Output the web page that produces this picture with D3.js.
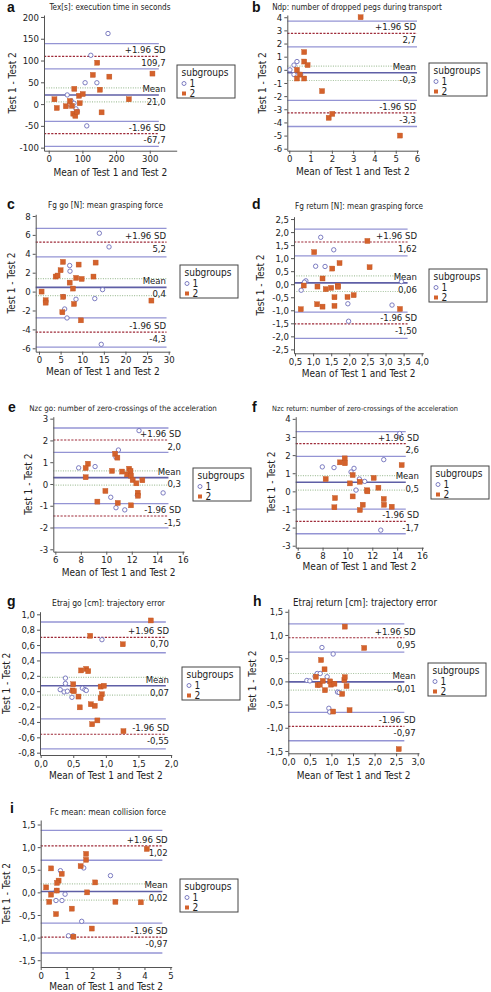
<!DOCTYPE html>
<html><head><meta charset="utf-8">
<script src="https://cdn.jsdelivr.net/npm/d3@7"></script>
<style>
body{margin:0;background:#fff}
svg{display:block}
text{font-family:"Liberation Sans Narrow","DejaVu Sans Condensed","Arial Narrow",Arial,sans-serif}
</style>
</head><body>
<svg id="chart" width="491" height="992"></svg>
<script>
// ---------------- DATA ----------------
const letters = ["a","b","c","d","e","f","g","h","i"];
const titles = [
  "Tex[s]: execution time in seconds",
  "Ndp: number of dropped pegs during transport",
  "Fg go [N]: mean grasping force",
  "Fg return [N]: mean grasping force",
  "Nzc go: number of zero-crossings of the acceleration",
  "Nzc return: number of zero-crossings of the acceleration",
  "Etraj go [cm]: trajectory error",
  "Etraj return [cm]: trajectory error",
  "Fc mean: mean collision force"
];
const xAxisLabel = "Mean of Test 1 and Test 2";
const yAxisLabel = "Test 1 - Test 2";
const legendTitle = "subgroups";
const groupNames = ["1","2"];

// limit lines: [upperCIhi, upper(+1.96SD), upperCIlo, meanCIhi, mean, meanCIlo, lowerCIhi, lower(-1.96SD), lowerCIlo]
const aLines = [139, 109.7, 81, 37.4, 21.0, 5.3, -39.7, -67.7, -97];
const bLines = [3.7, 2.77, 1.75, 0.28, -0.22, -0.81, -2.33, -3.27, -4.31];
const cLines = [6.7, 5.23, 3.67, 1.38, 0.45, -0.42, -2.79, -4.28, -5.87];
const dLines = [2.11, 1.62, 1.09, 0.32, 0.05, -0.28, -1.07, -1.52, -2.08];
const eLines = [2.57, 2.02, 1.45, 0.6, 0.29, -0.05, -0.9, -1.47, -2.02];
const fLines = [3.3, 2.63, 1.93, 0.87, 0.5, 0.07, -0.98, -1.66, -2.34];
const gLines = [0.9, 0.7, 0.5, 0.18, 0.07, -0.05, -0.36, -0.56, -0.75];
const hLines = [1.24, 0.94, 0.63, 0.17, -0.01, -0.19, -0.67, -0.97, -1.28];
const iLines = [1.37, 1.03, 0.71, 0.19, 0.02, -0.17, -0.68, -0.99, -1.34];

const aLineLabels = ["109,7", "21,0", "-67,7"];
const bLineLabels = ["2,7", "-0,3", "-3,3"];
const cLineLabels = ["5,2", "0,4", "-4,3"];
const dLineLabels = ["1,62", "0,06", "-1,50"];
const eLineLabels = ["2,0", "0,3", "-1,5"];
const fLineLabels = ["2,6", "0,5", "-1,7"];
const gLineLabels = ["0,70", "0,07", "-0,55"];
const hLineLabels = ["0,95", "-0,01", "-0,97"];
const iLineLabels = ["1,02", "0,02", "-0,97"];
const limitNames = ["+1.96 SD", "Mean", "-1.96 SD"];

// tick values
const aXTicks = [0,100,200,300], aYTicks = [-100,-50,0,50,100,150,200];
const bXTicks = [0,1,2,3,4,5,6], bYTicks = [-6,-5,-4,-3,-2,-1,0,1,2,3,4];
const cXTicks = [0,5,10,15,20,25,30], cYTicks = [-6,-4,-2,0,2,4,6,8];
const dXTicks = [0.5,1,1.5,2,2.5,3,3.5,4], dYTicks = [-2.5,-2,-1.5,-1,-0.5,0,0.5,1,1.5,2,2.5];
const eXTicks = [6,8,10,12,14,16], eYTicks = [-3,-2,-1,0,1,2,3];
const fXTicks = [6,8,10,12,14,16], fYTicks = [-3,-2,-1,0,1,2,3,4];
const gXTicks = [0,0.5,1,1.5,2], gYTicks = [-0.8,-0.6,-0.4,-0.2,0,0.2,0.4,0.6,0.8,1];
const hXTicks = [0,0.5,1,1.5,2,2.5,3], hYTicks = [-1.5,-1,-0.5,0,0.5,1,1.5];
const iXTicks = [0,1,2,3,4,5], iYTicks = [-1.5,-1,-0.5,0,0.5,1,1.5];
const xDecimals = [0,0,0,1,0,0,1,1,0];
const yDecimals = [0,0,0,1,0,0,1,1,1];

// points: [mean, difference]
const aGroup1 = [[176,162],[125,112],[108,49],[143,49],[55,21],[67,7],[75,2],[81,-11],[85,-17],[113,-50],[62,0]];
const aGroup2 = [[131,67],[144,95],[180,63],[152,33],[157,-19],[76,35],[90,19],[101,23],[92,2],[17,11],[24,-9],[51,-5],[69,-4],[73,-22],[79,-27],[84,-18],[238,11],[308,70],[63,7]];
const bGroup1 = [[0.03,0],[0.22,0.36],[0.36,0.63],[0.22,-0.36],[0.53,-0.36]];
const bGroup2 = [[3.35,4.0],[0.7,1.35],[0.7,0.63],[0.86,0.36],[0.36,0],[0.5,-0.36],[0.36,-0.66],[0.7,-0.66],[1.54,-1.62],[1.85,-3.65],[2.02,-3.35],[5.2,-5.0]];
const cGroup1 = [[13.96,6.18],[16.2,4.73],[7.1,2.76],[7.17,2.16],[5.63,-0.53],[5.94,-1.84],[8.56,-0.81],[12.9,-0.74],[14.7,0.21],[6.48,-2.79],[14.4,-5.58]];
const cGroup2 = [[5.55,3.14],[5.0,2.26],[3.86,1.59],[4.3,1.7],[7.1,0.95],[7.86,0.32],[8.6,1.45],[9.87,1.34],[9.17,2.86],[12.6,1.59],[13.1,3.07],[0.6,0],[1.54,-0.92],[1.54,-1.17],[5.4,-2.19],[8.1,-1.31],[9.7,-3.04],[26,-0.95],[5.6,-0.55]];
const dGroup1 = [[1.21,1.8],[1.57,1.32],[1.07,0.69],[1.33,0.68],[0.8,0.13],[0.67,-0.23],[1.96,-0.75],[1.98,-1.42],[3.18,-0.8],[3.44,0.1],[0.76,0.08]];
const dGroup2 = [[1.03,1.23],[1.53,0.6],[1.73,0.81],[1.26,0.22],[0.74,-0.05],[1.12,-0.09],[1.35,-0.19],[1.5,-0.14],[1.68,-0.06],[1.69,-0.1],[1.59,-0.5],[1.95,-0.49],[2.12,-0.42],[1.11,-0.77],[1.26,-0.86],[1.59,-0.83],[0.66,-0.96],[2.5,1.66],[2.56,0.65],[3.4,-0.95]];
const eGroup1 = [[12.57,2.45],[10.95,1.56],[10.76,1.23],[7.83,0.74],[9.12,0.8],[10.35,-0.61],[10.76,-1.09],[11.45,-1.19],[14.46,-0.41],[12.44,-0.52]];
const eGroup2 = [[10.69,1.39],[10.87,1.21],[8.56,0.93],[8.38,0.73],[8.38,0.31],[10.45,0.6],[11.24,0.57],[11.79,0.7],[11.9,0.6],[11.63,0.44],[11.94,0.38],[12.07,0.18],[12.36,0.03],[12.83,0.17],[12.47,-0.4],[12.49,-0.54],[9.93,-0.32],[9.3,-0.81],[10.9,-0.87],[11.94,-0.98]];
const fGroup1 = [[14.2,3.19],[12.92,1.75],[7.98,1.35],[8.92,1.31],[10.29,1.07],[10.53,1.27],[10.96,0.68],[11.39,0.55],[10.69,0.07],[12.68,-2.14]];
const fGroup2 = [[9.4,1.6],[9.78,1.82],[9.8,1.55],[8.25,0.68],[10.42,0.9],[10.2,0.44],[10.99,0.53],[12.11,0.74],[11.58,0.06],[11.6,0],[12.49,0.2],[14.36,1.45],[9.0,-0.37],[8.95,-0.88],[10.42,-0.28],[11.23,-0.74],[11.0,-1.03],[12.92,-0.42],[12.94,-0.74],[13.56,-0.85]];
const gGroup1 = [[0.94,0.67],[0.38,0.17],[0.38,0.1],[0.3,0.02],[0.36,-0.01],[0.41,0],[0.48,-0.08],[0.64,0.04],[0.68,0.02],[0.7,0.01]];
const gGroup2 = [[1.69,0.92],[0.76,0.72],[1.26,0.61],[0.62,0.27],[0.7,0.29],[0.73,0.26],[0.5,0.09],[0.49,0.01],[0.51,0],[0.58,-0.07],[0.6,-0.21],[0.77,-0.17],[0.83,-0.19],[0.79,-0.43],[0.87,-0.38],[0.92,0.06],[0.97,0.07],[0.94,-0.04],[0.92,-0.09],[1.27,-0.52]];
const hGroup1 = [[0.78,0.73],[1.04,0.59],[0.43,0.02],[0.5,0.01],[0.62,0.11],[0.67,0.17],[0.74,0.17],[0.9,0.1],[0.94,-0.58],[0.96,-0.66],[1.14,-0.23],[1.18,-0.24]];
const hGroup2 = [[1.31,1.18],[1.76,0.72],[0.76,0.46],[0.84,0.26],[0.64,0.1],[0.68,-0.08],[0.73,-0.07],[0.8,0.01],[0.97,0],[0.99,-0.07],[1.07,-0.05],[0.85,-0.19],[1.25,-0.27],[1.3,0.03],[1.31,0.09],[1.35,-0.1],[1.04,-0.65],[1.42,-0.62],[2.56,-1.46]];
const iGroup1 = [[0.76,0.48],[1.66,0.54],[2.69,0.37],[0.6,0.04],[0.94,-0.04],[0.59,-0.18],[0.82,-0.18],[1.58,-0.64],[1.07,-0.96],[1.25,-0.96]];
const iGroup2 = [[4.09,0.96],[1.75,0.85],[1.75,0.72],[1.54,0.58],[0.4,0.53],[0.81,0.41],[0.69,0.26],[0.63,0.21],[2.1,0.22],[0.21,0.11],[0.4,-0.05],[1.79,0],[0.33,-0.21],[2.88,-0.21],[3.86,-0.22],[1.2,-0.36],[0.59,-0.48],[1.97,-0.8],[1.26,-0.98],[0.62,0.04]];

// domains of each axis and end of the limit lines (data units)
const xDomains = [[-14,380],[-0.094,6.06],[-0.76,30.3],[0.472,4.044],[5.84,16.1],[5.84,16.1],[-0.01,2.01],[0,3.03],[0,5.05]];
const yDomains = [[-107,204.5],[-6.15,4.17],[-6.36,8.18],[-2.65,2.59],[-3.11,3.09],[-3.11,4.12],[-0.83,1.034],[-1.55,1.56],[-1.65,1.6]];
const lineEnds = [327, 6.0, 29.5, 3.61, 14.88, 14.69, 1.92, 2.69, 4.69];

// ---------------- LAYOUT (pixels) ----------------
const layouts = [
  {left:44,   right:176.7, top:15,    bottom:150.7, labelRight:165.7, yLabX:12,    titleX:110, titleY:9.5, titleW:121, letX:7,   letY:12,  xLabY:175.5, legend:[177,65]},
  {left:287.3,right:418.3, top:15,    bottom:150.7, labelRight:416,   yLabX:262.3, titleX:357, titleY:9.5, titleW:170, letX:252, letY:12,  xLabY:175,   legend:[429,63]},
  {left:35.7, right:170,   top:214.3, bottom:351.7, labelRight:166,   yLabX:11.7,  titleX:105.5,titleY:208,titleW:115, letX:7,   letY:209, xLabY:374.5, legend:[180,265]},
  {left:294,  right:423.3, top:216.7, bottom:353.3, labelRight:417,   yLabX:260,   titleX:359, titleY:208.5,titleW:128,letX:252, letY:209, xLabY:376.5, legend:[429,269]},
  {left:53.3, right:184,   top:416.7, bottom:551.7, labelRight:181,   yLabX:28.3,  titleX:123, titleY:411, titleW:188, letX:8,   letY:412, xLabY:575.5, legend:[193,468]},
  {left:295.7,right:423.3, top:416.7, bottom:547.7, labelRight:419,   yLabX:271.7, titleX:365, titleY:411, titleW:186, letX:252, letY:412, xLabY:570,   legend:[431,466]},
  {left:40,   right:171.7, top:611.7, bottom:755,   labelRight:169,   yLabX:6,     titleX:108.5,titleY:606,titleW:113, letX:7,   letY:606, xLabY:779,   legend:[182,667]},
  {left:288.3,right:419,   top:609,   bottom:753.3, labelRight:415.7, yLabX:252.5, titleX:365, titleY:605.5,titleW:144,letX:253, letY:606, xLabY:778.5, legend:[428,663]},
  {left:40.7, right:171.7, top:820,   bottom:967,   labelRight:167.7, yLabX:6,     titleX:108, titleY:815, titleW:116, letX:10,  letY:813, xLabY:990,   legend:[180,879]}
];

const allLines = [aLines,bLines,cLines,dLines,eLines,fLines,gLines,hLines,iLines];
const allLineLabels = [aLineLabels,bLineLabels,cLineLabels,dLineLabels,eLineLabels,fLineLabels,gLineLabels,hLineLabels,iLineLabels];
const allXTicks = [aXTicks,bXTicks,cXTicks,dXTicks,eXTicks,fXTicks,gXTicks,hXTicks,iXTicks];
const allYTicks = [aYTicks,bYTicks,cYTicks,dYTicks,eYTicks,fYTicks,gYTicks,hYTicks,iYTicks];
const allG1 = [aGroup1,bGroup1,cGroup1,dGroup1,eGroup1,fGroup1,gGroup1,hGroup1,iGroup1];
const allG2 = [aGroup2,bGroup2,cGroup2,dGroup2,eGroup2,fGroup2,gGroup2,hGroup2,iGroup2];

// ---------------- STYLE ----------------
const C = {
  axis:"#555", text:"#222",
  ci:"#9494d4", mean:"#5f5fa6", limit:"#9e2a38", meanCI:"#a6c29e",
  sq:"#d4622c", sqStroke:"#c0541f", circ:"#6e6eba"
};
const FS = 9.5;
const fmt = (v, dec) => v.toFixed(dec).replace(".", ",");

const svg = d3.select("#chart");

letters.forEach((letter, k) => {
  const L = layouts[k];
  const x = d3.scaleLinear().domain(xDomains[k]).range([L.left, L.right]);
  const y = d3.scaleLinear().domain(yDomains[k]).range([L.bottom, L.top]);
  const g = svg.append("g");

  // letter & title
  g.append("text").attr("x", L.letX).attr("y", L.letY).text(letter)
    .style("font-family", "'Liberation Sans',Arial,sans-serif")
    .attr("font-size", 14).attr("font-weight", "bold").attr("fill", "#111");
  const t = g.append("text").attr("x", L.titleX).attr("y", L.titleY).text(titles[k])
    .attr("text-anchor", "middle").attr("font-size", 10).attr("fill", C.text);
  const natural = t.node().getComputedTextLength();
  if (natural > 0) t.attr("font-size", Math.min(10, 10 * L.titleW / natural).toFixed(2));

  // limit lines
  const lines = allLines[k];
  const styles = [
    {c:C.ci, w:1.3, d:null}, {c:C.limit, w:1.2, d:"2.2,1.4"}, {c:C.ci, w:1.3, d:null},
    {c:C.meanCI, w:1.2, d:"1,1.4"}, {c:C.mean, w:1.6, d:null}, {c:C.meanCI, w:1.2, d:"1,1.4"},
    {c:C.ci, w:1.3, d:null}, {c:C.limit, w:1.2, d:"2.2,1.4"}, {c:C.ci, w:1.3, d:null}
  ];
  lines.forEach((v, j) => {
    const s = styles[j];
    g.append("line")
      .attr("x1", x(xDomains[k][0])).attr("x2", x(lineEnds[k]))
      .attr("y1", y(v)).attr("y2", y(v))
      .attr("stroke", s.c).attr("stroke-width", s.w)
      .attr("stroke-dasharray", s.d);
  });

  // labels for limits
  [1,4,7].forEach((idx, m) => {
    const yy = y(lines[idx]);
    g.append("text").attr("x", L.labelRight).attr("y", yy - 3).text(limitNames[m])
      .attr("text-anchor", "end").attr("font-size", FS).attr("fill", C.text);
    g.append("text").attr("x", L.labelRight).attr("y", yy + 9.8).text(allLineLabels[k][m])
      .attr("text-anchor", "end").attr("font-size", FS).attr("fill", C.text);
  });

  // axes
  const yAxis = d3.axisLeft(y).tickValues(allYTicks[k]).tickFormat(d => fmt(d, yDecimals[k]))
    .tickSizeInner(3).tickSizeOuter(0).tickPadding(2);
  const xAxis = d3.axisBottom(x).tickValues(allXTicks[k]).tickFormat(d => fmt(d, xDecimals[k]))
    .tickSizeInner(3).tickSizeOuter(0).tickPadding(2);
  const ya = g.append("g").attr("transform", `translate(${L.left},0)`).call(yAxis);
  const xa = g.append("g").attr("transform", `translate(0,${L.bottom})`).call(xAxis);
  [ya, xa].forEach(a => {
    a.attr("font-family", null);
    a.select(".domain").attr("stroke", C.axis).attr("stroke-width", 1);
    a.selectAll(".tick line").attr("stroke", C.axis);
    a.selectAll(".tick text").attr("fill", C.text).attr("font-size", FS);
  });

  // axis labels
  g.append("text").attr("x", (L.left + L.right) / 2).attr("y", L.xLabY).text(xAxisLabel)
    .attr("text-anchor", "middle").attr("font-size", FS + 0.5).attr("fill", C.text);
  g.append("text")
    .attr("transform", `translate(${L.yLabX},${(L.top + L.bottom) / 2}) rotate(-90)`)
    .attr("dominant-baseline", "central")
    .text(yAxisLabel).attr("text-anchor", "middle").attr("font-size", FS + 0.5).attr("fill", C.text);

  // points
  g.append("g").selectAll("circle").data(allG1[k]).join("circle")
    .attr("cx", d => x(d[0])).attr("cy", d => y(d[1])).attr("r", 2.2)
    .attr("fill", "#fff").attr("stroke", C.circ).attr("stroke-width", 0.9);
  g.append("g").selectAll("rect").data(allG2[k]).join("rect")
    .attr("x", d => x(d[0]) - 2.5).attr("y", d => y(d[1]) - 2.5)
    .attr("width", 5).attr("height", 5)
    .attr("fill", C.sq).attr("stroke", C.sqStroke).attr("stroke-width", 0.4);

  // legend
  const [lx, ly] = L.legend;
  const lg = g.append("g").attr("transform", `translate(${lx},${ly})`);
  lg.append("rect").attr("x", 0).attr("y", 0).attr("width", 58).attr("height", 33)
    .attr("fill", "#fff").attr("stroke", "#444").attr("stroke-width", 1);
  lg.append("text").attr("x", 4.5).attr("y", 11).text(legendTitle)
    .attr("font-size", FS + 0.5).attr("fill", C.text);
  lg.append("circle").attr("cx", 7).attr("cy", 18.5).attr("r", 2)
    .attr("fill", "#fff").attr("stroke", C.circ).attr("stroke-width", 0.9);
  lg.append("text").attr("x", 12.5).attr("y", 22).text(groupNames[0])
    .attr("font-size", FS + 0.5).attr("fill", C.text);
  lg.append("rect").attr("x", 5).attr("y", 26.5).attr("width", 4).attr("height", 4)
    .attr("fill", C.sq);
  lg.append("text").attr("x", 12.5).attr("y", 32).text(groupNames[1])
    .attr("font-size", FS + 0.5).attr("fill", C.text);
});
</script>
</body></html>
